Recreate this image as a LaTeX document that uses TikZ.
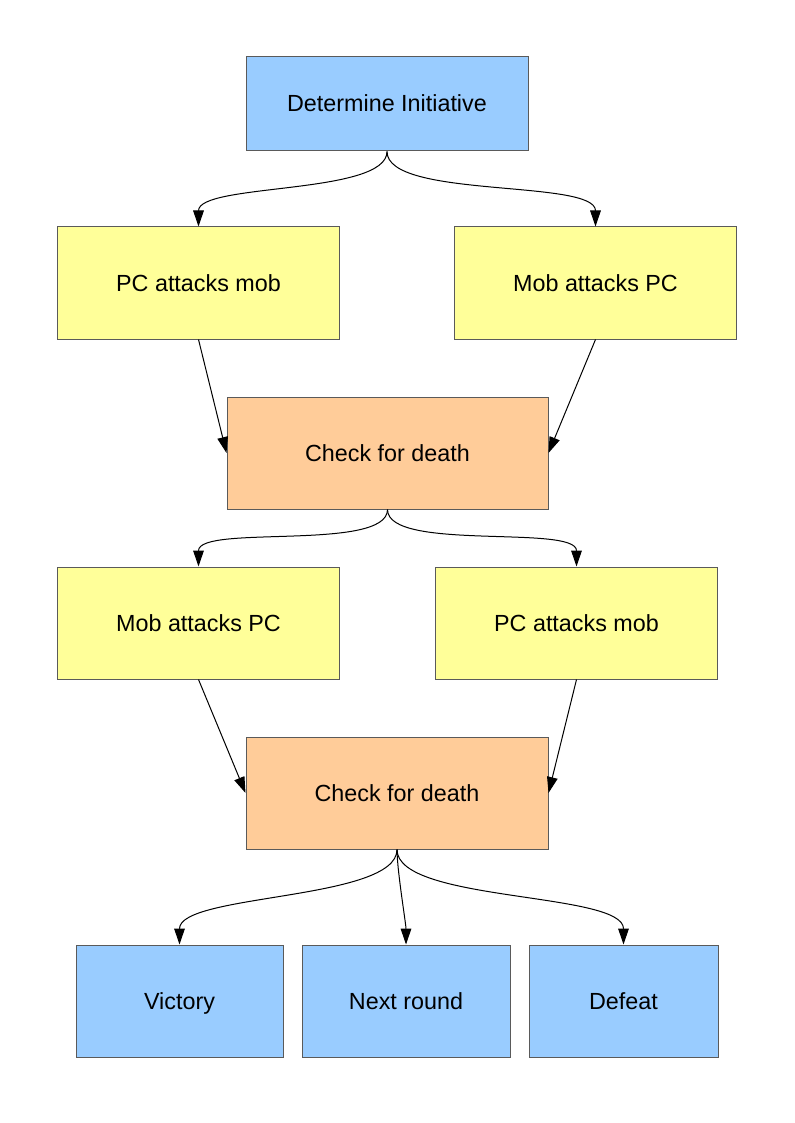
\documentclass[tikz,border=0pt]{standalone}
\usepackage{fontspec}
\setmainfont{Liberation Sans}
\usepackage{xcolor}
\usetikzlibrary{arrows.meta}
\definecolor{initblue}{HTML}{99CCFF}
\definecolor{attackyellow}{HTML}{FFFF99}
\definecolor{checkorange}{HTML}{FFCC99}
\definecolor{boxedge}{HTML}{5A5A5A}
\begin{document}
\begin{tikzpicture}[x=0.75pt,y=-0.75pt,
        box/.style={draw=boxedge, line width=0.75pt, rectangle, minimum height=84pt,
            inner sep=0pt, text height=14pt, text depth=2pt,
            font=\fontsize{17.5}{20}\selectfont},
        blue box/.style={box, fill=initblue},
        yellow box/.style={box, fill=attackyellow, minimum width=212pt},
        orange box/.style={box, fill=checkorange},
        flow/.style={-{Triangle[length=12pt,width=8pt]}, line width=0.75pt},
        swoop/.style={out=-90, in=90, looseness=0.55}]
        \useasboundingbox (0,0) rectangle (794,1123);

        \node[blue box, minimum width=211.5pt, minimum height=70.5pt] (init) at (387,104) {Determine Initiative};

        \node[yellow box] (pc1) at (198.5,283) {PC attacks mob};
        \node[yellow box] (mob1) at (595.5,283) {Mob attacks PC};
        \node[orange box, minimum width=240.75pt] (check1) at (387.5,453) {Check for death};

        \node[yellow box] (mob2) at (198.5,623) {Mob attacks PC};
        \node[yellow box] (pc2) at (576.5,623) {PC attacks mob};
        \node[orange box, minimum width=226.5pt] (check2) at (397,793) {Check for death};

        \node[blue box, minimum width=155.25pt] (win) at (179.5,1001) {Victory};
        \node[blue box, minimum width=156pt] (next) at (406,1001) {Next round};
        \node[blue box, minimum width=141.75pt] (lose) at (623.5,1001) {Defeat};

        % Initiative
        \draw[flow] (init.south) to[swoop] (pc1.north);
        \draw[flow] (init.south) to[swoop] (mob1.north);

        % first strike
        \draw[flow] (pc1.south) -- (check1.west);
        \draw[flow] (mob1.south) -- (check1.east);

        % counter strike
        \draw[flow] (check1.south) to[swoop] (mob2.north);
        \draw[flow] (check1.south) to[swoop] (pc2.north);
        \draw[flow] (mob2.south) -- (check2.west);
        \draw[flow] (pc2.south) -- (check2.east);

        % outcome
        \draw[flow] (check2.south) to[swoop] (win.north);
        \draw[flow] (check2.south) to[swoop] (next.north);
        \draw[flow] (check2.south) to[swoop] (lose.north);
    \end{tikzpicture}
\end{document}
